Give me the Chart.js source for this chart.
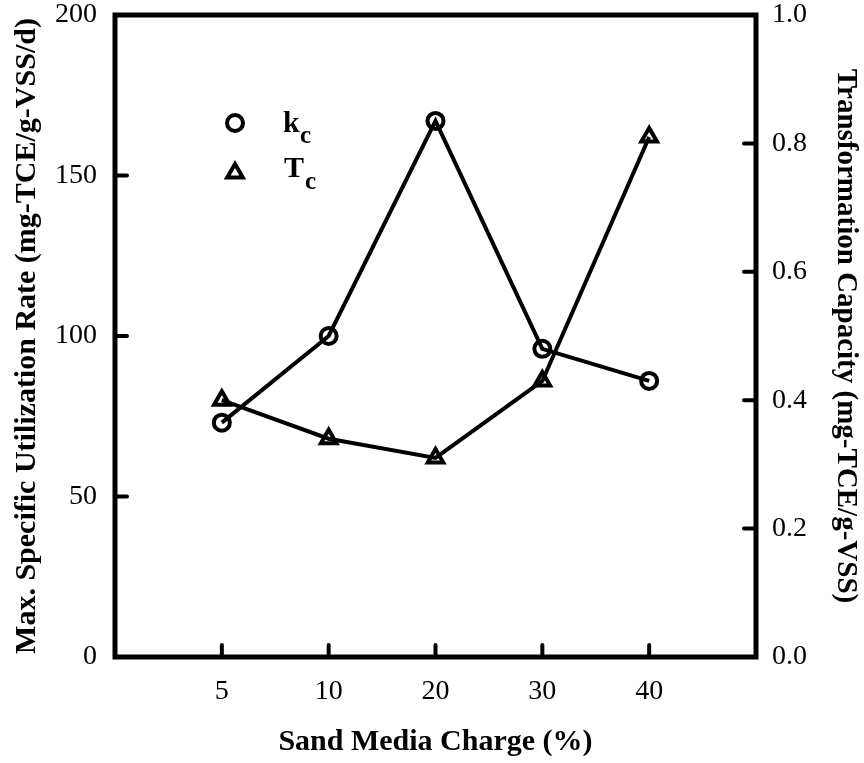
<!DOCTYPE html>
<html lang="en">
<head>
<meta charset="UTF-8">
<title>Sand Media Charge</title>
<script src="https://cdn.jsdelivr.net/npm/chart.js@4/dist/chart.umd.min.js"></script>
<style>
  html, body { margin: 0; padding: 0; background: #fff; }
</style>
</head>
<body>
<canvas id="myChart" width="864" height="763"></canvas>
<script>
// data
const charges = ['5', '10', '20', '30', '40'];
const kcValues = [73, 100, 167, 96, 86];          // left axis
const tcValues = [0.40, 0.34, 0.31, 0.43, 0.81];  // right axis
const leftTicks = [0, 50, 100, 150, 200];
const rightTicks = [0.0, 0.2, 0.4, 0.6, 0.8, 1.0];

const FONT = "'Liberation Serif', 'Times New Roman', serif";

function toPoints(values) {
    return values.map((v, i) => ({ x: i + 1, y: v }));
}

// frame, inward ticks and the in-plot legend
const framePlugin = {
    id: 'frame',
    afterDraw(chart) {
        const ctx = chart.ctx;
        const a = chart.chartArea;
        const xs = chart.scales.x, ys = chart.scales.y, ys1 = chart.scales.y1;
        ctx.save();
        ctx.strokeStyle = '#000';
        ctx.lineWidth = 5;
        ctx.lineCap = 'square';
        ctx.strokeRect(a.left, a.top, a.right - a.left, a.bottom - a.top);

        ctx.lineWidth = 4;
        ctx.lineCap = 'round';
        ctx.beginPath();
        charges.forEach((c, i) => {
            const px = xs.getPixelForValue(i + 1);
            ctx.moveTo(px, a.bottom);
            ctx.lineTo(px, a.bottom - 12);
        });
        leftTicks.slice(1, -1).forEach(v => {
            const py = ys.getPixelForValue(v);
            ctx.moveTo(a.left, py);
            ctx.lineTo(a.left + 12, py);
        });
        rightTicks.slice(1, -1).forEach(v => {
            const py = ys1.getPixelForValue(v);
            ctx.moveTo(a.right, py);
            ctx.lineTo(a.right - 12, py);
        });
        ctx.stroke();

        // legend
        ctx.lineWidth = 4;
        ctx.lineCap = 'butt';
        ctx.beginPath();
        ctx.arc(235, 123, 8, 0, Math.PI * 2);
        ctx.stroke();
        const r = 9, cx = 235, cy = 173;
        ctx.beginPath();
        for (let k = 0; k < 3; k++) {
            const ang = k * 2 * Math.PI / 3;
            const px = cx + Math.sin(ang) * r, py = cy - Math.cos(ang) * r;
            if (k === 0) ctx.moveTo(px, py); else ctx.lineTo(px, py);
        }
        ctx.closePath();
        ctx.stroke();

        ctx.fillStyle = '#000';
        ctx.textBaseline = 'alphabetic';
        ctx.textAlign = 'left';
        ctx.font = "bold 30px " + FONT;
        ctx.fillText('k', 283, 132);
        ctx.fillText('T', 284, 177);
        ctx.font = "bold 25px " + FONT;
        ctx.fillText('c', 300, 143);
        ctx.fillText('c', 305, 189);
        ctx.restore();
    }
};

const ctx = document.getElementById('myChart').getContext('2d');
const myChart = new Chart(ctx, {
    type: 'line',
    data: {
        datasets: [{
            label: 'kc',
            data: toPoints(kcValues),
            yAxisID: 'y',
            borderColor: '#000',
            borderWidth: 4,
            backgroundColor: 'transparent',
            pointStyle: 'circle',
            pointRadius: 8,
            pointBorderWidth: 4,
            pointBorderColor: '#000',
            pointBackgroundColor: 'transparent',
            tension: 0,
            clip: false
        }, {
            label: 'Tc',
            data: toPoints(tcValues),
            yAxisID: 'y1',
            borderColor: '#000',
            borderWidth: 4,
            backgroundColor: 'transparent',
            pointStyle: 'triangle',
            pointRadius: 9,
            pointBorderWidth: 4,
            pointBorderColor: '#000',
            pointBackgroundColor: 'transparent',
            tension: 0,
            clip: false
        }]
    },
    options: {
        responsive: false,
        animation: false,
        layout: { padding: { top: 15, left: 0, right: 0, bottom: 0 } },
        plugins: {
            legend: { display: false },
            tooltip: { enabled: false }
        },
        scales: {
            x: {
                type: 'linear',
                min: 0,
                max: 6,
                grid: { display: false },
                border: { display: false },
                afterBuildTicks: s => { s.ticks = charges.map((c, i) => ({ value: i + 1 })); },
                afterFit: s => { s.height = 106; s.paddingLeft = 0; s.paddingRight = 0; },
                ticks: {
                    color: '#000',
                    padding: 10,
                    maxRotation: 0,
                    font: { family: FONT, size: 28 },
                    callback: v => charges[v - 1]
                },
                title: {
                    display: true,
                    text: 'Sand Media Charge (%)',
                    color: '#000',
                    font: { family: FONT, size: 30, weight: 'bold' },
                    padding: { top: 0, bottom: 3 }
                }
            },
            y: {
                position: 'left',
                min: 0,
                max: 200,
                grid: { display: false },
                border: { display: false },
                afterBuildTicks: s => { s.ticks = leftTicks.map(v => ({ value: v })); },
                afterFit: s => { s.width = 115; s.paddingTop = 0; s.paddingBottom = 0; },
                ticks: {
                    color: '#000',
                    padding: 10,
                    font: { family: FONT, size: 28 }
                },
                title: {
                    display: true,
                    text: 'Max. Specific Utilization Rate (mg-TCE/g-VSS/d)',
                    color: '#000',
                    font: { family: FONT, size: 30, weight: 'bold' },
                    padding: { top: 9, bottom: 0 }
                }
            },
            y1: {
                position: 'right',
                min: 0,
                max: 1,
                grid: { display: false },
                border: { display: false },
                afterBuildTicks: s => { s.ticks = rightTicks.map(v => ({ value: v })); },
                afterFit: s => { s.width = 108; s.paddingTop = 0; s.paddingBottom = 0; },
                ticks: {
                    color: '#000',
                    padding: 8,
                    font: { family: FONT, size: 28 },
                    callback: v => v.toFixed(1)
                },
                title: {
                    display: true,
                    text: 'Transformation Capacity (mg-TCE/g-VSS)',
                    color: '#000',
                    font: { family: FONT, size: 29, weight: 'bold' },
                    padding: { top: 1, bottom: 0 }
                }
            }
        }
    },
    plugins: [framePlugin]
});
</script>
</body>
</html>
